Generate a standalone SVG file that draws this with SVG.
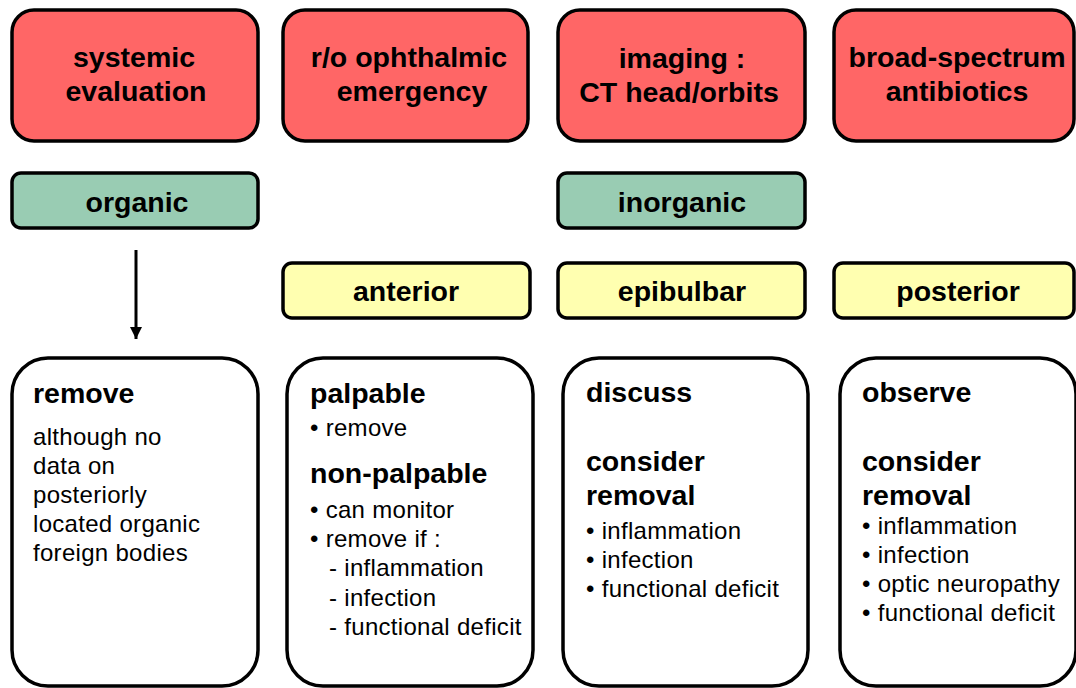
<svg xmlns="http://www.w3.org/2000/svg" width="1076" height="688" viewBox="0 0 1076 688">
<defs>
<style>
.red{fill:#FF6666;stroke:#000;stroke-width:3.5}
.grn{fill:#99CCB3;stroke:#000;stroke-width:3.5}
.yel{fill:#FFFFB0;stroke:#000;stroke-width:3.5}
.wht{fill:#FFFFFF;stroke:#000;stroke-width:3.5}
.t{font-family:"Liberation Sans",Arial,sans-serif;font-weight:bold;font-size:28.5px;fill:#000;text-anchor:middle}
.h{font-family:"Liberation Sans",Arial,sans-serif;font-weight:bold;font-size:28.5px;fill:#000}
.b{font-family:"Liberation Sans",Arial,sans-serif;font-size:24px;letter-spacing:0.3px;fill:#000}
</style>
<marker id="ah" markerWidth="12" markerHeight="12" refX="12" refY="6" orient="auto" markerUnits="userSpaceOnUse" viewBox="0 0 12 12">
<path d="M0,0 L12,6 L0,12 Z" fill="#000"/>
</marker>
</defs>
<g id="n-systemic"><rect class="red" x="12" y="10" width="246" height="131" rx="22"/><text class="t" x="134" y="67">systemic</text><text class="t" x="136" y="101">evaluation</text></g>
<g id="n-ophthalmic"><rect class="red" x="283" y="10" width="245" height="131" rx="22"/><text class="t" x="409" y="67">r/o ophthalmic</text><text class="t" x="412" y="101">emergency</text></g>
<g id="n-imaging"><rect class="red" x="558" y="10" width="247" height="131" rx="22"/><text class="t" x="682" y="68">imaging :</text><text class="t" x="679" y="102">CT head/orbits</text></g>
<g id="n-antibiotics"><rect class="red" x="834" y="10" width="240" height="131" rx="22"/><text class="t" x="957" y="67">broad-spectrum</text><text class="t" x="957" y="101">antibiotics</text></g>
<g id="n-organic"><rect class="grn" x="12" y="173" width="246" height="55" rx="9"/><text class="t" x="137" y="212">organic</text></g>
<g id="n-inorganic"><rect class="grn" x="558" y="173" width="247" height="55" rx="9"/><text class="t" x="682" y="212">inorganic</text></g>
<g id="n-anterior"><rect class="yel" x="283" y="263" width="247" height="55" rx="9"/><text class="t" x="406" y="301">anterior</text></g>
<g id="n-epibulbar"><rect class="yel" x="558" y="263" width="247" height="55" rx="9"/><text class="t" x="682" y="301">epibulbar</text></g>
<g id="n-posterior"><rect class="yel" x="834" y="263" width="240" height="55" rx="9"/><text class="t" x="958" y="301">posterior</text></g>
<g id="n-remove"><rect class="wht" x="12" y="358" width="246" height="328" rx="36"/>
<text class="h" x="33" y="403">remove</text>
<text class="b" x="33" y="445">although no</text>
<text class="b" x="33" y="474">data on</text>
<text class="b" x="33" y="503">posteriorly</text>
<text class="b" x="33" y="532">located organic</text>
<text class="b" x="33" y="561">foreign bodies</text>
</g>
<g id="n-palpable"><rect class="wht" x="287" y="358" width="246" height="328" rx="36"/>
<text class="h" x="310" y="403">palpable</text>
<text class="b" x="310" y="436">• remove</text>
<text class="h" x="310" y="483">non-palpable</text>
<text class="b" x="310" y="518">• can monitor</text>
<text class="b" x="310" y="547">• remove if :</text>
<text class="b" x="329" y="576">- inflammation</text>
<text class="b" x="329" y="606">- infection</text>
<text class="b" x="329" y="635">- functional deficit</text>
</g>
<g id="n-discuss"><rect class="wht" x="563" y="358" width="245" height="328" rx="36"/>
<text class="h" x="586" y="402">discuss</text>
<text class="h" x="586" y="471">consider</text>
<text class="h" x="586" y="505">removal</text>
<text class="b" x="586" y="539">• inflammation</text>
<text class="b" x="586" y="568">• infection</text>
<text class="b" x="586" y="597">• functional deficit</text>
</g>
<g id="n-observe"><rect class="wht" x="840" y="358" width="236" height="328" rx="36"/>
<text class="h" x="862" y="402">observe</text>
<text class="h" x="862" y="471">consider</text>
<text class="h" x="862" y="505">removal</text>
<text class="b" x="862" y="534">• inflammation</text>
<text class="b" x="862" y="563">• infection</text>
<text class="b" x="862" y="592">• optic neuropathy</text>
<text class="b" x="862" y="621">• functional deficit</text>
</g>
<g id="connectors">
<line x1="136" y1="250" x2="136" y2="339" stroke="#000" stroke-width="3" marker-end="url(#ah)"/>
</g>
</svg>
